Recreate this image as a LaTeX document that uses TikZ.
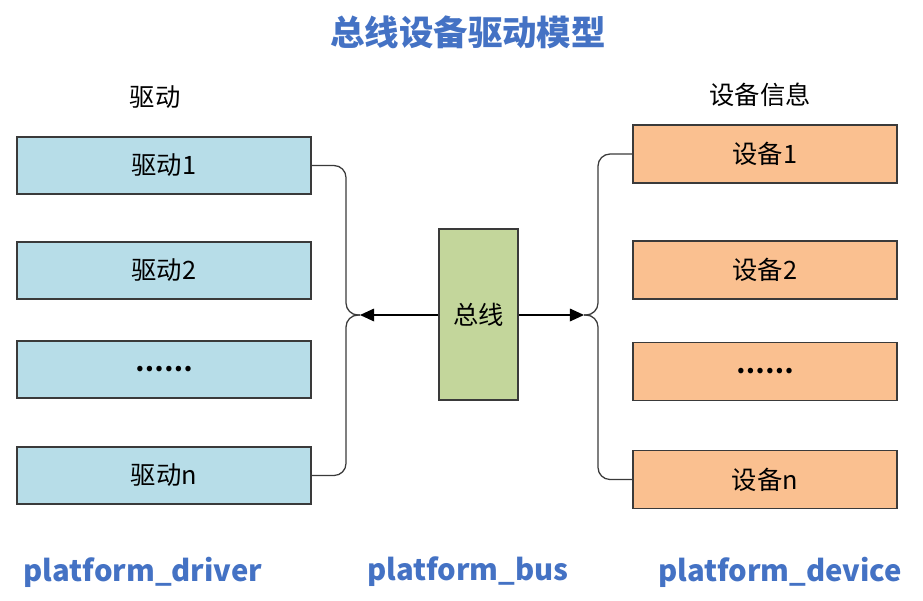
\documentclass[tikz,border=0pt]{standalone}
\usepackage{fontspec}
\usepackage{tikz}
\usetikzlibrary{arrows.meta}
\setmainfont{Noto Sans CJK SC}
\newcommand{\pu}{0.025cm}
\definecolor{titleblue}{HTML}{4472C4}
\definecolor{drvfill}{HTML}{B7DDE8}
\definecolor{devfill}{HTML}{FAC090}
\definecolor{busfill}{HTML}{C3D69B}
\definecolor{edge}{HTML}{3A3A3A}

\tikzset{
  drvbox/.style={draw=edge, fill=drvfill, line width=1.2pt, minimum width=294*\pu, minimum height=57*\pu, font=\fontsize{18}{20}\selectfont},
  devbox/.style={draw=edge, fill=devfill, line width=1.2pt, minimum width=264*\pu, minimum height=58*\pu, font=\fontsize{18}{20}\selectfont},
  busbox/.style={draw=edge, fill=busfill, line width=1.2pt, minimum width=79*\pu, minimum height=171*\pu, font=\fontsize{18}{20}\selectfont},
  brace/.style={draw=edge, line width=0.9pt, rounded corners=12*\pu},
  link/.style={draw=black, line width=0.9pt, -{Triangle[length=10pt,width=9pt]}},
  bottomlabel/.style={text=titleblue, font=\fontsize{20.8}{24}\bfseries\selectfont}
}

\begin{document}
\begin{tikzpicture}[x=\pu, y=-\pu]
      \useasboundingbox (0,0) rectangle (923,600);

      % titles
      \node[text=titleblue, font=\fontsize{24.5}{28}\bfseries\selectfont] (title) at (468,32) {总线设备驱动模型};
      \node[font=\fontsize{18}{20}\selectfont] (drvhead) at (155,97) {驱动};
      \node[font=\fontsize{18}{20}\selectfont] (devhead) at (760,95) {设备信息};

      % drivers
      \node[drvbox] (d1) at (164,165.5) {驱动1};
      \node[drvbox] (d2) at (164,270.5) {驱动2};
      \node[drvbox] (d3) at (164,369.5) {\textbf{……}};
      \node[drvbox] (d4) at (164,475.5) {驱动n};

      % devices
      \node[devbox] (v1) at (765,154) {设备1};
      \node[devbox] (v2) at (765,270) {设备2};
      \node[devbox] (v3) at (765,371.5) {\textbf{……}};
      \node[devbox] (v4) at (765,479.5) {设备n};

      % bus
      \node[busbox] (bus) at (478.5,314.5) {总线};

      \coordinate (lb) at (360,315);
      \coordinate (rb) at (584,315);

      % braces
      \draw[brace] (d1.east) -| (346,315) -- (lb);
      \draw[brace] (lb) -- (346,315) |- (d4.east);
      \draw[brace] (v1.west) -| (598,315) -- (rb);
      \draw[brace] (rb) -- (598,315) |- (v4.west);

      \draw[link] (bus.west |- lb) -- (lb);
      \draw[link] (bus.east |- rb) -- (rb);

      % names
      \node[bottomlabel] (pdrv) at (143,572) {platform\_driver};
      \node[bottomlabel] (pbus) at (468,572) {platform\_bus};
      \node[bottomlabel] (pdev) at (780,572) {platform\_device};
    \end{tikzpicture}
\end{document}
